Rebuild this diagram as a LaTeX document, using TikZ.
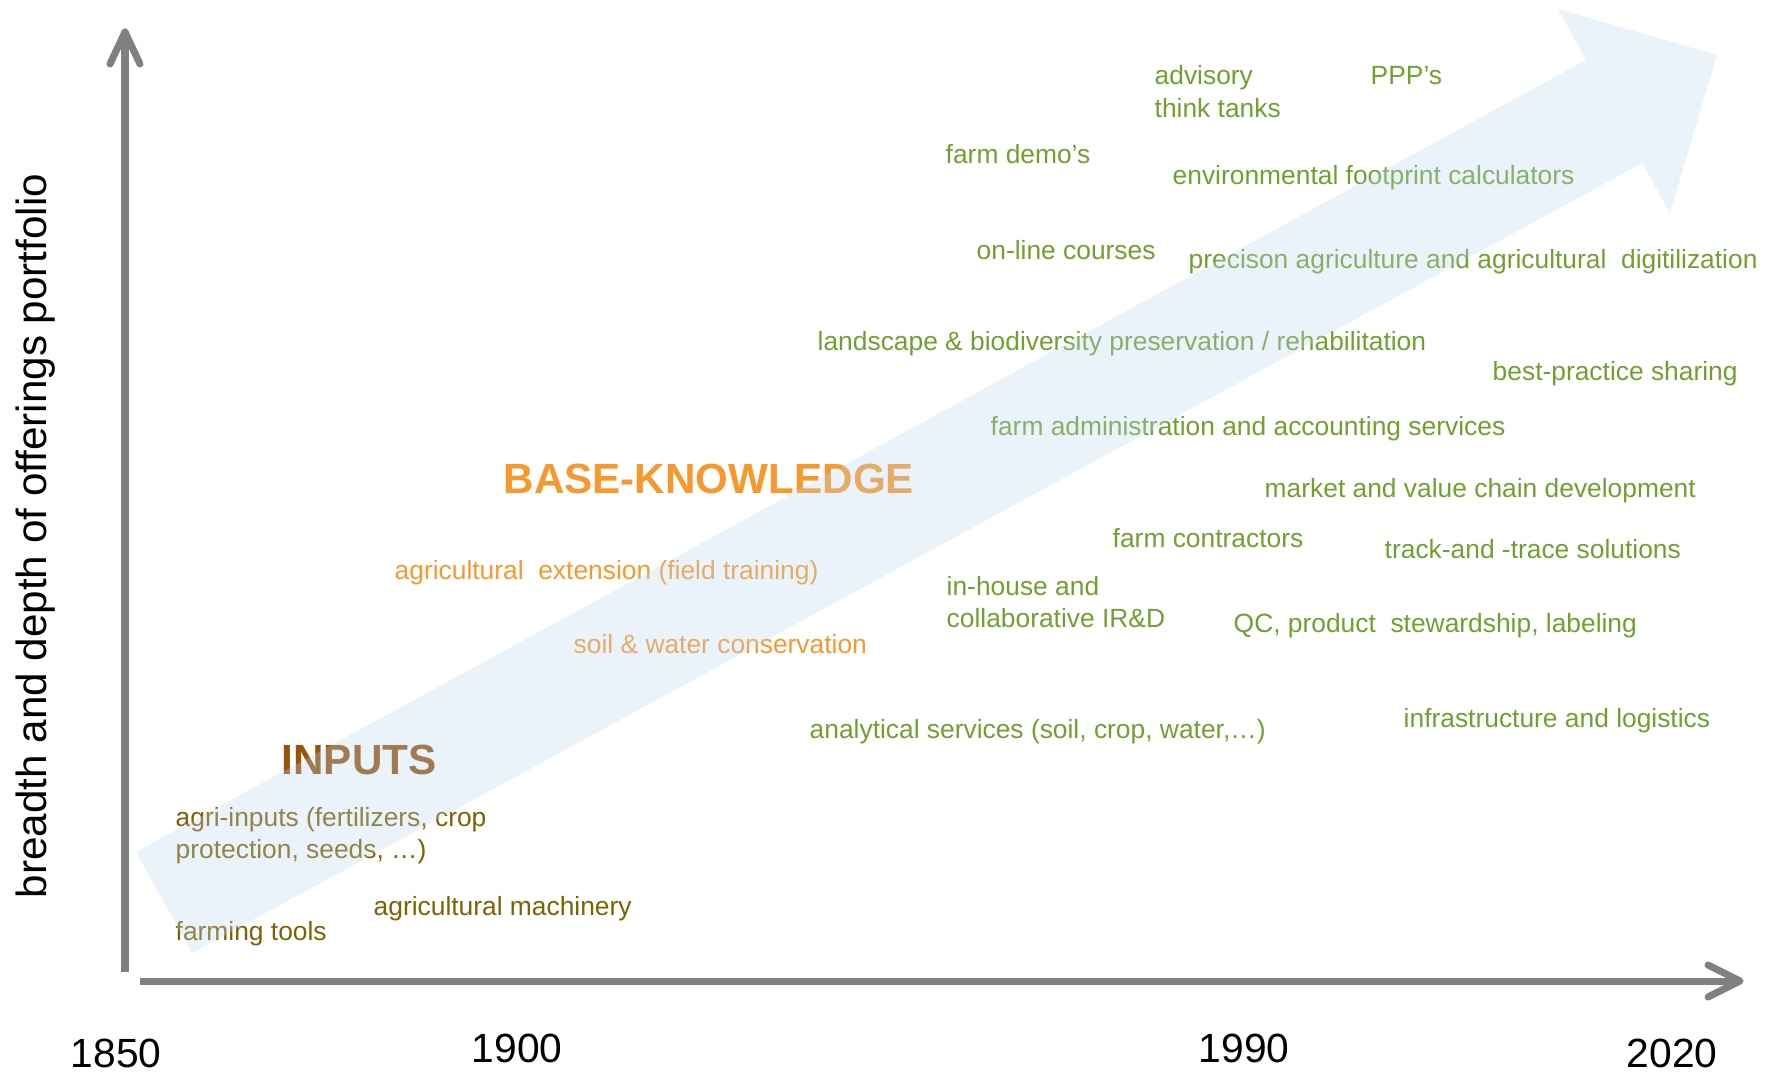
\documentclass[tikz,border=0pt]{standalone}
\usepackage{fontspec}
\setmainfont{Liberation Sans}
\definecolor{agreen}{RGB}{112,160,48}
\definecolor{aorange}{RGB}{247,152,45}
\definecolor{abrown}{RGB}{150,84,12}
\definecolor{aolive}{RGB}{128,96,0}
\definecolor{agray}{RGB}{128,128,128}
\definecolor{arrowblue}{RGB}{189,215,238}
\newcommand{\twolines}[2]{\begin{tabular}[t]{@{}l@{}}#1\\#2\end{tabular}}
\begin{document}
\begin{tikzpicture}[x=0.01cm,y=-0.01cm,
  lbl/.style={anchor=base west,inner sep=0pt,font=\fontsize{7.5}{9.1}\selectfont},
  grn/.style={lbl,text=agreen},
  org/.style={lbl,text=aorange},
  brn/.style={lbl,text=aolive},
  headlbl/.style={anchor=base west,inner sep=0pt,font=\fontsize{12}{14}\selectfont\bfseries},
  yearlbl/.style={anchor=base west,inner sep=0pt,font=\fontsize{11.6}{14}\selectfont},
  axisline/.style={draw=agray,line width=2pt},
  tipline/.style={draw=agray,line width=2pt,line cap=round,line join=round},
  bigarrow/.style={fill=arrowblue,fill opacity=0.3}
]
\useasboundingbox (0,0) rectangle (1777,1073);

% axes
\coordinate (vb) at (125,972);
\coordinate (vt) at (125,32);
\coordinate (hl) at (140,981);
\coordinate (hr) at (1740,981);
\draw[axisline] (vb) -- (vt);
\draw[tipline] (vt) ++(-15,32) -- (vt) -- ++(15,32);
\draw[axisline] (hl) -- (hr);
\draw[tipline] (hr) ++(-32,-16) -- (hr) -- ++(-32,16);

% axis labels
\node[rotate=90,anchor=base,inner sep=0pt,font=\fontsize{12}{14}\selectfont] (ylabel) at (46,536) {breadth and depth of offerings portfolio};
\node[yearlbl] (y1850) at (70,1067) {1850};
\node[yearlbl] (y1900) at (471,1062) {1900};
\node[yearlbl] (y1990) at (1198,1062) {1990};
\node[yearlbl] (y2020) at (1626,1067) {2020};

% green texts
\node[grn] (advisory) at (1154,85) {\twolines{advisory}{think tanks}};
\node[grn] (ppp) at (1370,85) {PPP’s};
\node[grn] (demo) at (945,163) {farm demo’s};
\node[grn] (envfp) at (1172,184) {environmental footprint calculators};
\node[grn] (online) at (976,259) {on-line courses};
\node[grn] (precision) at (1188,268) {precison agriculture and agricultural\ \ digitilization};
\node[grn] (landscape) at (817,350) {landscape \& biodiversity preservation / rehabilitation};
\node[grn] (bestpr) at (1492,380) {best-practice sharing};
\node[grn] (farmadmin) at (990,435) {farm administration and accounting services};
\node[grn] (market) at (1264,497) {market and value chain development};
\node[grn] (contractors) at (1112,547) {farm contractors};
\node[grn] (track) at (1384,558) {track-and -trace solutions};
\node[grn] (inhouse) at (946,595) {\twolines{in-house and}{collaborative IR\&D}};
\node[grn] (qc) at (1233,632) {QC, product\ \ stewardship, labeling};
\node[grn] (infra) at (1403,727) {infrastructure and logistics};
\node[grn] (analytical) at (809,738) {analytical services (soil, crop, water,…)};

% orange texts
\node[headlbl,text=aorange] (baseknow) at (503,493) {BASE-KNOWLEDGE};
\node[org] (extension) at (394,579) {agricultural\ \ extension (field training)};
\node[org] (soil) at (573,653) {soil \& water conservation};

% brown texts
\node[headlbl,text=abrown] (inputs) at (281,774) {INPUTS};
\node[brn] (agriin) at (175,826) {\twolines{agri-inputs (fertilizers, crop}{protection, seeds, …)}};
\node[brn] (machinery) at (373,915) {agricultural machinery};
\node[brn] (tools) at (175,940) {farming tools};

% big translucent arrow (on top of the texts)
\fill[bigarrow] (136,852) -- (1586,60) -- (1558,9) -- (1717,55) -- (1670,213) -- (1642,163) -- (192,953) -- cycle;
\end{tikzpicture}
\end{document}
